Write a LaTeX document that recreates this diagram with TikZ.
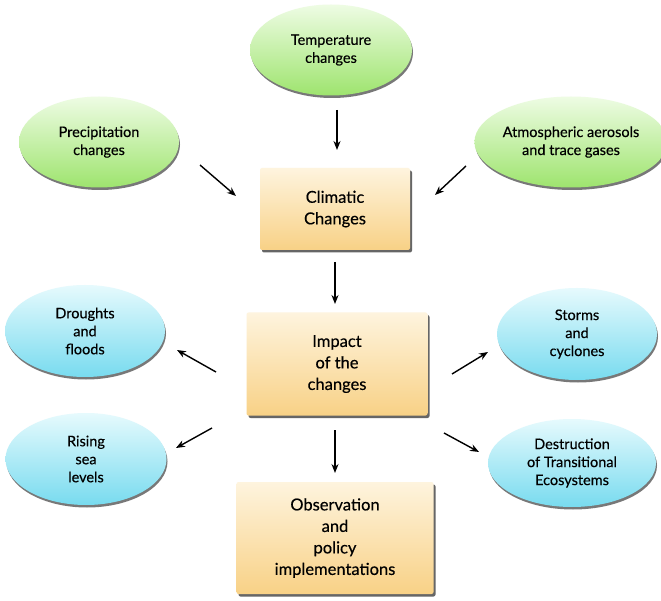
\documentclass[tikz,border=0pt]{standalone}
\usepackage{fontspec}
\setmainfont{Lato}[FakeBold=0.35]
\usetikzlibrary{shapes.geometric,shadows,arrows.meta}
\definecolor{gtop}{HTML}{EEFCE4}
\definecolor{gbot}{HTML}{9EE46E}
\definecolor{btop}{HTML}{E6FAFD}
\definecolor{bbot}{HTML}{78DBEF}
\definecolor{otop}{HTML}{FEF4DE}
\definecolor{obot}{HTML}{F8D186}
\tikzset{
  ell/.style={ellipse, minimum width=#1, align=center, inner sep=0pt, font=\fontsize{14.5}{18}\selectfont,
     drop shadow={shadow xshift=1pt, shadow yshift=-2.5pt, opacity=0.75, fill=black!70}},
  gell/.style={ell=160pt, minimum height=91pt, top color=gtop, bottom color=gbot},
  bell/.style={ell=160pt, minimum height=92pt, top color=btop, bottom color=bbot},
  box/.style={rectangle, rounded corners=2pt, align=center, font=\fontsize{16.5}{21.5}\selectfont,
     top color=otop, bottom color=obot,
     drop shadow={shadow xshift=2pt, shadow yshift=-2.5pt, opacity=0.8, fill=black!75}},
  arr/.style={-{Stealth[length=9pt,width=7pt]}, line width=1.4pt, black}
}
\begin{document}
\begin{tikzpicture}[x=1pt,y=-1pt]
\useasboundingbox[fill=white] (0,0) rectangle (661,601);
% ellipses
\node[gell, minimum width=162pt] (temp) at (331,50) {Temperature\\changes};
\node[gell] (prec) at (99,142) {Precipitation\\changes};
\node[gell, minimum width=168pt] (atm) at (571,142) {Atmospheric aerosols\\and trace gases};
\node[bell] (drou) at (85,331) {Droughts\\and\\floods};
\node[bell] (stor) at (577,334) {Storms\\and\\cyclones};
\node[bell, minimum width=161pt] (rise) at (86,459) {Rising\\sea\\levels};
\node[bell, minimum width=168pt, minimum height=88pt] (dest) at (572,463) {Destruction\\of Transitional\\Ecosystems};
% boxes
\node[box, minimum width=150pt, minimum height=82pt] (clim) at (335,209) {Climatic\\Changes};
\node[box, minimum width=181pt, minimum height=103pt] (imp) at (337,364) {Impact\\of the\\changes};
\node[box, minimum width=197pt, minimum height=112pt] (obs) at (335,538) {Observation\\and\\policy\\implementations};
% arrow end points
\coordinate (a1s) at (337,110); \coordinate (a1e) at (337,150);
\coordinate (a2s) at (200,165); \coordinate (a2e) at (236,196);
\coordinate (a3s) at (466,166); \coordinate (a3e) at (435,195);
\coordinate (a4s) at (335,262); \coordinate (a4e) at (335,304);
\coordinate (a5s) at (216,372); \coordinate (a5e) at (177,350);
\coordinate (a6s) at (452,374); \coordinate (a6e) at (488,352);
\coordinate (a7s) at (212,428); \coordinate (a7e) at (176,448);
\coordinate (a8s) at (444,433); \coordinate (a8e) at (479,452);
\coordinate (a9s) at (335,430); \coordinate (a9e) at (335,473);
\draw[arr] (a1s) -- (a1e);
\draw[arr] (a2s) -- (a2e);
\draw[arr] (a3s) -- (a3e);
\draw[arr] (a4s) -- (a4e);
\draw[arr] (a5s) -- (a5e);
\draw[arr] (a6s) -- (a6e);
\draw[arr] (a7s) -- (a7e);
\draw[arr] (a8s) -- (a8e);
\draw[arr] (a9s) -- (a9e);
\end{tikzpicture}
\end{document}
